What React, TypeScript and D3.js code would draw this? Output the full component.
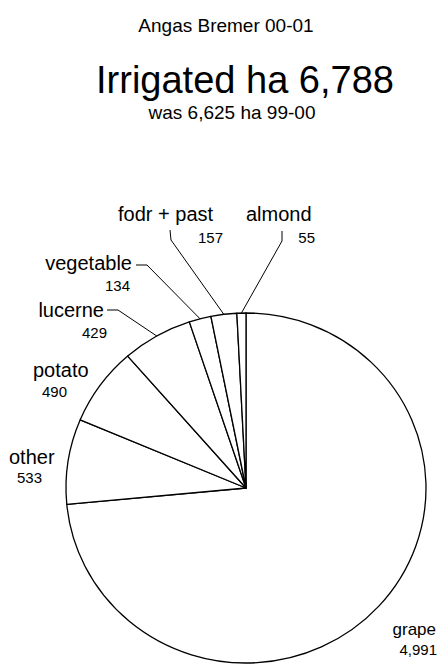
import React from "react";
import * as d3 from "d3";

const categories = ["grape", "other", "potato", "lucerne", "vegetable", "fodr + past", "almond"];
const areas = [4991, 533, 490, 429, 134, 157, 55];
const valueLabels = ["4,991", "533", "490", "429", "134", "157", "55"];
const titleText = "Angas Bremer 00-01";
const headline = "Irrigated ha 6,788";
const subline = "was 6,625 ha 99-00";

const W = 442;
const H = 664;
const cx = 246;
const cy = 488;
const rx = 180;
const ry = 175;
const FONT = "'Liberation Sans', Arial, Helvetica, sans-serif";

type Lay = {
  name: [number, number, string, number];
  val: [number, number, string];
  elbow?: [number, number][];
};

const layout: Record<string, Lay> = {
  grape: { name: [436, 635, "end", 17], val: [437, 655, "end"] },
  other: { name: [9, 464, "start", 20], val: [17, 483, "start"] },
  potato: { name: [33, 377, "start", 20], val: [42, 397, "start"] },
  lucerne: { name: [104, 317, "end", 20], val: [107, 338, "end"], elbow: [[107, 310], [118, 310]] },
  vegetable: { name: [132, 270, "end", 20], val: [130, 291, "end"], elbow: [[136, 265], [147, 265]] },
  "fodr + past": { name: [118, 221, "start", 20], val: [223, 243, "end"], elbow: [[170, 230], [171, 240]] },
  almond: { name: [246, 221, "start", 20], val: [315, 243, "end"], elbow: [[282, 231], [282, 241]] },
};

export default function App() {
  const data = categories.map((c, i) => ({ c, v: areas[i], lab: valueLabels[i] }));
  const pie = d3
    .pie<{ c: string; v: number; lab: string }>()
    .sort(null)
    .value((d) => d.v)
    .startAngle(0)
    .endAngle(2 * Math.PI);
  const arcs = pie(data);
  const arcGen = d3
    .arc<d3.PieArcDatum<{ c: string; v: number; lab: string }>>()
    .innerRadius(0)
    .outerRadius(rx);
  const edge = (a: number): [number, number] => [cx + rx * Math.sin(a), cy - ry * Math.cos(a)];

  return (
    <svg width={W} height={H} style={{ position: "absolute", left: 0, top: 0, background: "#fff" }}>
      <rect x={0} y={0} width={W} height={H} fill="#fff" />
      <text x={226} y={32} fontFamily={FONT} fontSize={19} textAnchor="middle" fill="#000">
        {titleText}
      </text>
      <text x={245} y={93} fontFamily={FONT} fontSize={38} textAnchor="middle" fill="#000">
        {headline}
      </text>
      <text x={232} y={119} fontFamily={FONT} fontSize={19} textAnchor="middle" fill="#000">
        {subline}
      </text>
      <g transform={`translate(${cx},${cy}) scale(1,${ry / rx})`}>
        {arcs.map((a) => (
          <path
            key={a.data.c}
            d={arcGen(a) || ""}
            fill="#fff"
            stroke="#000"
            strokeWidth={1.3}
            vectorEffect="non-scaling-stroke"
            strokeLinejoin="round"
          />
        ))}
      </g>
      {arcs.map((a) => {
        const L = layout[a.data.c];
        const mid = (a.startAngle + a.endAngle) / 2;
        const pts = L.elbow ? [...L.elbow, edge(mid)] : null;
        return (
          <g key={"l" + a.data.c}>
            {pts && (
              <path
                d={d3.line()(pts) || ""}
                fill="none"
                stroke="#000"
                strokeWidth={1}
              />
            )}
            <text
              x={L.name[0]}
              y={L.name[1]}
              textAnchor={L.name[2] as any}
              fontFamily={FONT}
              fontSize={L.name[3]}
              fill="#000"
            >
              {a.data.c}
            </text>
            <text
              x={L.val[0]}
              y={L.val[1]}
              textAnchor={L.val[2] as any}
              fontFamily={FONT}
              fontSize={15}
              fill="#000"
            >
              {a.data.lab}
            </text>
          </g>
        );
      })}
    </svg>
  );
}
